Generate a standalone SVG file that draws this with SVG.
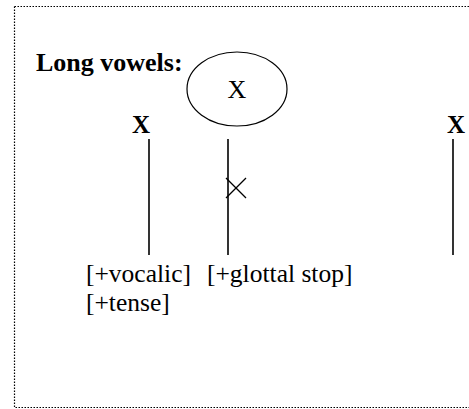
<svg xmlns="http://www.w3.org/2000/svg" width="469" height="409" viewBox="0 0 469 409">
  <style>
    .frame { fill: none; stroke: #000; stroke-width: 1.2; stroke-dasharray: 1.5 1.5; }
    .stem { stroke: #000; stroke-width: 1.6; fill: none; }
    .thin { stroke: #000; stroke-width: 1.2; fill: none; }
    .bold { font-family: "Liberation Serif", "Times New Roman", serif; font-weight: bold; fill: #000; }
    .reg { font-family: "Liberation Serif", "Times New Roman", serif; fill: #000; }
  </style>
  <rect width="469" height="409" fill="#fff"/>
  <!-- dotted frame; its right side runs past the canvas -->
  <path class="frame" d="M14.5 6.5 H470 M14.5 6.5 V407.5 H470"/>

  <text class="bold" x="36" y="71" font-size="26">Long vowels:</text>

  <g id="node-circled-x">
    <ellipse class="thin" cx="237" cy="89" rx="50" ry="37"/>
    <text class="reg" x="237" y="98" font-size="26" text-anchor="middle">X</text>
  </g>
  <g id="node-x-left">
    <text class="bold" x="141" y="133" font-size="25" text-anchor="middle">X</text>
  </g>
  <g id="node-x-right">
    <text class="bold" x="456" y="133" font-size="25" text-anchor="middle">X</text>
  </g>
  <g id="node-features-left">
    <text class="reg" x="86" y="282" font-size="25.5">[+vocalic]</text>
    <text class="reg" x="86" y="311" font-size="25.5">[+tense]</text>
  </g>
  <g id="node-features-mid">
    <text class="reg" x="207" y="282" font-size="25.5">[+glottal stop]</text>
  </g>

  <g id="connectors">
    <line class="stem" x1="149" y1="139" x2="149" y2="255"/>
    <line class="stem" x1="228" y1="139" x2="228" y2="255"/>
    <line class="stem" x1="453" y1="139" x2="453" y2="255"/>
    <!-- delinking cross on the middle association line -->
    <line class="thin" x1="226" y1="178" x2="246" y2="198"/>
    <line class="thin" x1="246" y1="178" x2="226" y2="198"/>
  </g>
</svg>
